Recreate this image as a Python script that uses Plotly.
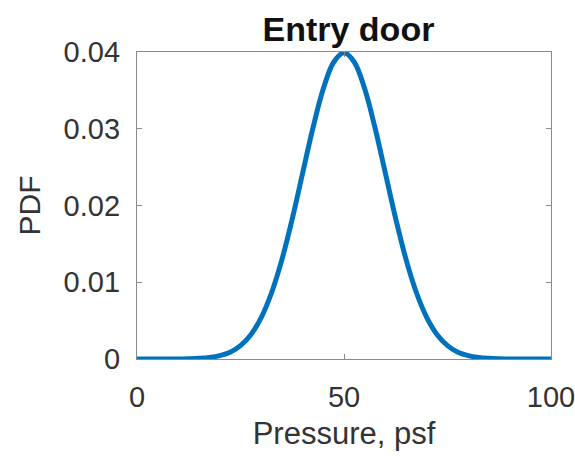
import plotly.graph_objects as go

# Pressure (psf) and probability density read at 2.5 psf steps
pressure = [0, 5, 10, 12.5, 15, 17.5, 20, 22.5, 25, 27.5, 30, 32.5, 35, 37.5, 40, 42.5,
            45, 47.5, 50, 52.5, 55, 57.5, 60, 62.5, 65, 67.5, 70, 72.5, 75, 77.5,
            80, 82.5, 85, 87.5, 90, 95, 100]
pdf = [0.0, 0.0, 0.00001, 0.00004, 0.00009, 0.00020, 0.00044, 0.00088, 0.00175, 0.00317,
       0.0054, 0.00863, 0.01295, 0.01826, 0.0242, 0.03011, 0.03521, 0.03867, 0.03989,
       0.03867, 0.03521, 0.03011, 0.0242, 0.01826, 0.01295, 0.00863, 0.0054, 0.00317,
       0.00175, 0.00088, 0.00044, 0.00020, 0.00009, 0.00004, 0.00001, 0.0, 0.0]

x_ticks = [0, 50, 100]
y_ticks = [0, 0.01, 0.02, 0.03, 0.04]

FONT = "Liberation Sans, Arial, Helvetica"

fig = go.Figure(go.Scatter(
    x=pressure, y=pdf, mode="lines", line_shape="spline",
    line=dict(color="#0072BD", width=5),
))

axis_common = dict(
    showline=True, linecolor="#8a8a8a", linewidth=1.3, mirror="ticks",
    ticks="inside", ticklen=5, tickcolor="#8a8a8a", showgrid=False, zeroline=False,
    ticklabeloverflow="allow",
    tickfont=dict(family=FONT, size=29, color="#333333"),
)

fig.update_layout(
    width=575, height=457,
    margin=dict(l=137, r=24, t=52, b=98, autoexpand=False),
    paper_bgcolor="white", plot_bgcolor="white",
    showlegend=False,
    title=dict(text="<b>Entry door</b>", x=0.606, xanchor="center", y=0.937, yanchor="middle",
               font=dict(family=FONT, size=34, color="#111111")),
    xaxis=dict(range=[0, 100], tickvals=x_ticks, ticktext=["0", "50", "100"],
               ticklabelstandoff=12,
               title=dict(text="Pressure, psf", standoff=10,
                          font=dict(family=FONT, size=31, color="#333333")),
               **axis_common),
    yaxis=dict(range=[0, 0.04], tickvals=y_ticks, ticktext=["0", "0.01", "0.02", "0.03", "0.04"],
               ticklabelstandoff=10,
               title=dict(text="PDF", standoff=14,
                          font=dict(family=FONT, size=30, color="#333333")),
               **axis_common),
)

fig.write_html("out.html")
